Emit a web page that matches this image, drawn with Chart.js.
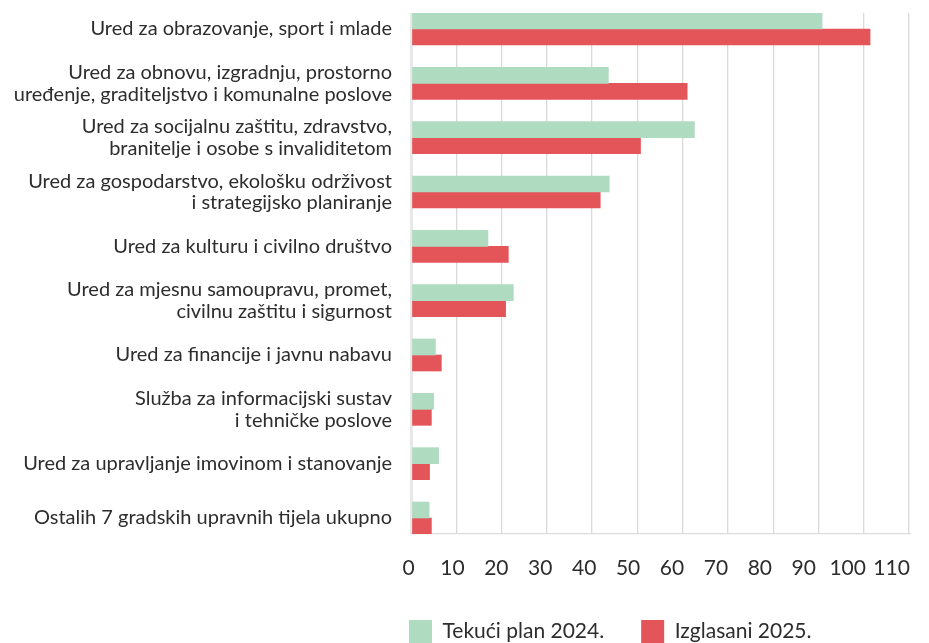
<!DOCTYPE html>
<html>
<head>
<meta charset="utf-8">
<script src="https://cdn.jsdelivr.net/npm/chart.js@4/dist/chart.umd.min.js"></script>
<style>
  html, body { margin: 0; padding: 0; background: #ffffff; }
  #wrap { position: relative; width: 929px; height: 643px; }
</style>
</head>
<body>
<div id="wrap"><canvas id="c" width="929" height="643"></canvas></div>
<script>
// ---- data ----
const categories = [
  "Ured za obrazovanje, sport i mlade",
  ["Ured za obnovu, izgradnju, prostorno", "uređenje, graditeljstvo i komunalne poslove"],
  ["Ured za socijalnu zaštitu, zdravstvo,", "branitelje i osobe s invaliditetom"],
  ["Ured za gospodarstvo, ekološku održivost", "i strategijsko planiranje"],
  "Ured za kulturu i civilno društvo",
  ["Ured za mjesnu samoupravu, promet,", "civilnu zaštitu i sigurnost"],
  "Ured za financije i javnu nabavu",
  ["Služba za informacijski sustav", "i tehničke poslove"],
  "Ured za upravljanje imovinom i stanovanje",
  "Ostalih 7 gradskih upravnih tijela ukupno"
];
const plan2024 = [90.8, 43.6, 62.6, 43.8, 17.0, 22.6, 5.4, 5.0, 6.1, 4.0];
const izglasani2025 = [101.4, 61.0, 50.7, 41.8, 21.5, 20.9, 6.7, 4.5, 4.1, 4.5];
const seriesNames = ["Tekući plan 2024.", "Izglasani 2025."];
const xTicks = [0, 10, 20, 30, 40, 50, 60, 70, 80, 90, 100, 110];

const FONT = "Lato";
const TEXT = "#2d2d2d";

const toPoints = arr => arr.map((v, i) => ({ x: v, y: i }));

const legendPlacer = {
  id: "legendPlacer",
  beforeDraw(chart) {
    const lg = chart.legend;
    if (!lg) return;
    const pad = lg.options.labels.padding;
    lg.left = chart.chartArea.left - 2 - pad;
    lg.right = chart.width;
    lg.top = 620 - pad;
    lg.bottom = chart.height;
    lg.width = lg.right - lg.left;
    lg.height = lg.bottom - lg.top;
  }
};

new Chart(document.getElementById("c"), {
  type: "bar",
  data: {
    datasets: [
      { label: seriesNames[0], data: toPoints(plan2024), backgroundColor: "#afdbc1", borderWidth: 0, barThickness: 16 },
      { label: seriesNames[1], data: toPoints(izglasani2025), backgroundColor: "#e4555a", borderWidth: 0, barThickness: 16 }
    ]
  },
  plugins: [legendPlacer],
  options: {
    indexAxis: "y",
    responsive: false,
    animation: false,
    layout: { padding: { left: 0, right: 20, top: 13, bottom: 0 } },
    scales: {
      y: {
        type: "linear",
        offset: false,
        reverse: true,
        min: -0.2945,
        max: 9.2945,
        afterBuildTicks(scale) { scale.ticks = categories.map((c, i) => ({ value: i })); },
        afterFit(scale) { scale.width = 411; },
        grid: { display: false, offset: false, drawTicks: true, tickLength: 19 },
        border: { display: false },
        ticks: {
          autoSkip: false,
          padding: 0,
          color: TEXT,
          font: { family: FONT, size: 20, weight: "400", lineHeight: 1.08 },
          callback: (v) => categories[v]
        }
      },
      x: {
        type: "linear",
        position: "bottom",
        weight: 0,
        min: 0,
        max: 110,
        afterBuildTicks(scale) { scale.ticks = xTicks.map(v => ({ value: v })); },
        afterFit(scale) { scale.height = 0; },
        grid: {
          drawTicks: false,
          color: (ctx) => ctx.index === 0 ? "#e8e8e8" : "#d9d9d9",
          lineWidth: (ctx) => ctx.index === 0 ? 3 : 1.3
        },
        border: { display: true, color: "#dcdcdc", width: 1.3 },
        ticks: { display: false, padding: 0 }
      },
      x2: {
        type: "linear",
        position: "bottom",
        weight: 1,
        offset: false,
        min: 0,
        max: 113.4,
        afterBuildTicks(scale) { scale.ticks = xTicks.map(v => ({ value: v })); },
        afterFit(scale) { scale.height = 643 - 1 - 534; },
        grid: { display: false, drawTicks: true, tickLength: 22 },
        border: { display: false },
        ticks: {
          autoSkip: false,
          maxRotation: 0,
          padding: 0,
          labelOffset: -2.5,
          color: TEXT,
          font: { family: FONT, size: 21, weight: "400" }
        }
      }
    },
    plugins: {
      legend: {
        display: true,
        position: "bottom",
        align: "start",
        maxHeight: 1,
        labels: {
          boxWidth: 23,
          boxHeight: 23,
          padding: 37,
          color: TEXT,
          font: { family: FONT, size: 21, weight: "400" }
        }
      },
      tooltip: { enabled: false },
      title: { display: false }
    }
  }
});
</script>
</body>
</html>
